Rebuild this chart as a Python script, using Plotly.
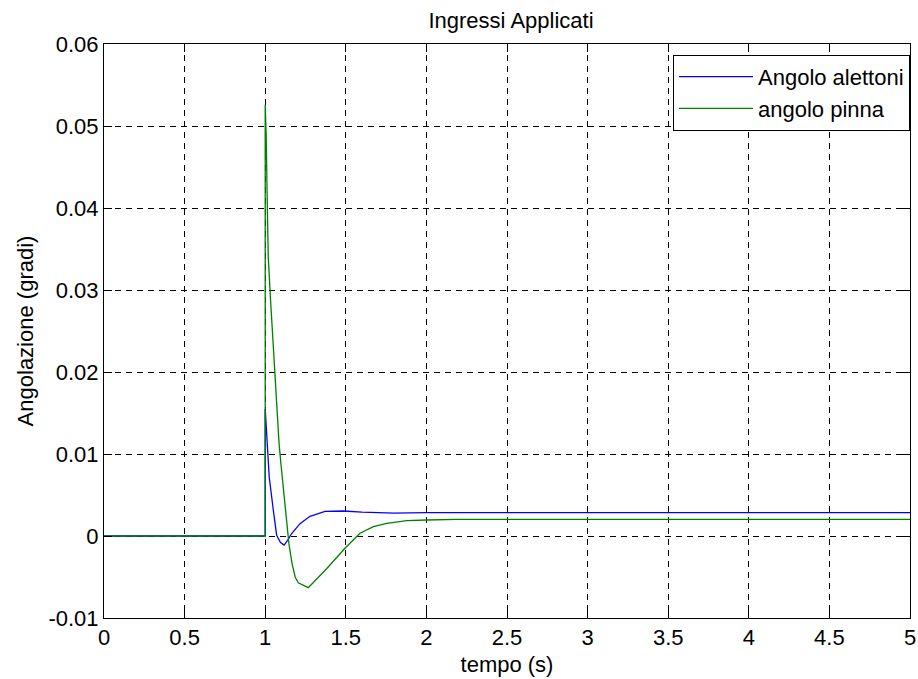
import plotly.graph_objects as go

# Time axis samples (s) and applied input angles (gradi)
t_alettoni = [0, 1.0, 1.0, 1.011, 1.025, 1.050, 1.071, 1.095, 1.117, 1.140, 1.164,
              1.216, 1.278, 1.371, 1.485, 1.6, 1.8, 2.0, 3.0, 4.0, 5.0]
angolo_alettoni = [0, 0, 0.0155, 0.0113, 0.0072, 0.0032, 0.0001, -0.0008, -0.0011,
                   -0.0005, 0.0003, 0.0015, 0.0024, 0.0030, 0.00305, 0.0029, 0.0028,
                   0.00285, 0.00285, 0.00285, 0.00285]

t_pinna = [0, 1.0, 1.0, 1.006, 1.012, 1.019, 1.034, 1.044, 1.055, 1.066, 1.086, 1.099,
           1.115, 1.136, 1.147, 1.166, 1.186, 1.205, 1.267, 1.381, 1.495, 1.588, 1.671,
           1.754, 1.878, 2.0, 2.188, 3.0, 4.0, 5.0]
angolo_pinna = [0, 0, 0.0526, 0.0489, 0.0416, 0.034, 0.0285, 0.0249, 0.0211, 0.0174,
                0.0113, 0.0085, 0.0052, 0.0011, -0.0009, -0.0033, -0.005, -0.0057,
                -0.0063, -0.0040, -0.0015, 0.00033, 0.00114, 0.00155, 0.00187, 0.00195,
                0.00203, 0.00203, 0.00203, 0.00203]

series_names = ["Angolo alettoni", "angolo pinna"]

x_tickvals = [0, 0.5, 1, 1.5, 2, 2.5, 3, 3.5, 4, 4.5, 5]
x_ticktext = ["0", "0.5", "1", "1.5", "2", "2.5", "3", "3.5", "4", "4.5", "5"]
y_tickvals = [-0.01, 0, 0.01, 0.02, 0.03, 0.04, 0.05, 0.06]
y_ticktext = ["-0.01", "0", "0.01", "0.02", "0.03", "0.04", "0.05", "0.06"]

FONT = "Liberation Sans, Arial, sans-serif"
TXT = dict(family=FONT, size=22, color="black")

fig = go.Figure()
fig.add_trace(go.Scatter(x=t_alettoni, y=angolo_alettoni, mode="lines",
                         name=series_names[0], line=dict(color="#0000ff", width=1.3)))
fig.add_trace(go.Scatter(x=t_pinna, y=angolo_pinna, mode="lines",
                         name=series_names[1], line=dict(color="#008000", width=1.3)))

axis_common = dict(
    showline=True, linecolor="black", linewidth=1, mirror="ticks",
    ticks="inside", ticklen=8, tickcolor="black", tickwidth=1,
    showgrid=True, gridcolor="black", gridwidth=1, griddash="6px,5px",
    zeroline=False, automargin=False, tickfont=TXT,
)

fig.update_xaxes(range=[0, 5], tickvals=x_tickvals, ticktext=x_ticktext,
                 title=dict(text="tempo (s)", font=TXT, standoff=7),
                 **axis_common)
fig.update_yaxes(range=[-0.01, 0.06], tickvals=y_tickvals, ticktext=y_ticktext,
                 title=dict(text="Angolazione (gradi)", font=TXT, standoff=8),
                 **axis_common)

fig.update_layout(
    width=918, height=679,
    margin=dict(l=104, r=8, t=44, b=61),
    paper_bgcolor="white", plot_bgcolor="white",
    font=dict(family=FONT, color="black"),
    title=dict(text="Ingressi Applicati", x=511 / 918, xanchor="center",
               y=1 - 20 / 679, yanchor="middle", yref="container",
               font=TXT),
    legend=dict(x=1, xanchor="right", y=0.981, yanchor="top",
                bgcolor="white", bordercolor="black", borderwidth=1,
                font=TXT, itemwidth=74, tracegroupgap=0),
    showlegend=True,
)

fig.write_html("out.html")
